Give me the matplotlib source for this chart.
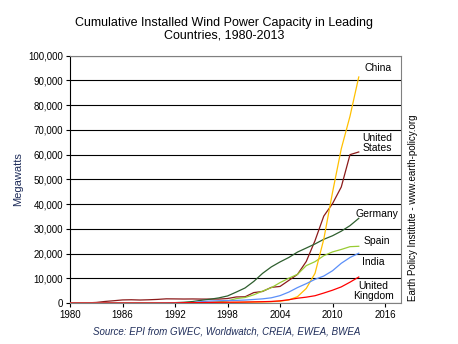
import matplotlib.pyplot as plt
import numpy as np

plt.rcParams['font.family'] = ['Liberation Sans', 'DejaVu Sans']

years = list(range(1980, 2014))

# cumulative installed capacity, MW
us = [8, 18, 84, 254, 653, 945, 1265, 1333, 1231, 1332, 1484, 1709, 1680, 1635,
      1663, 1612, 1614, 1611, 1837, 2472, 2539, 4232, 4687, 6350, 6723, 9147,
      11603, 16819, 25237, 35159, 40200, 46919, 60005, 61091]
germany = [0] * 10 + [55, 106, 174, 326, 618, 1121, 1549, 2089, 2875, 4445, 6104,
                      8754, 11994, 14609, 16629, 18428, 20622, 22247, 23903, 25777,
                      27214, 29060, 31308, 34250]
spain = [0] * 10 + [7, 7, 45, 52, 75, 115, 249, 512, 880, 1812, 2235, 3337, 4825,
                    6203, 8264, 10028, 11623, 15145, 16740, 19149, 20676, 21674,
                    22796, 22959]
india = [0] * 10 + [20, 39, 41, 79, 185, 576, 820, 940, 1015, 1077, 1220, 1456,
                    1702, 2125, 3000, 4430, 6270, 7850, 9587, 10925, 13065, 16084,
                    18421, 20150]
uk = [0] * 10 + [10, 13, 50, 150, 170, 200, 270, 320, 340, 360, 410, 480, 550,
                 650, 890, 1350, 1960, 2390, 2970, 4050, 5200, 6540, 8450, 10530]
china = [0] * 10 + [4, 10, 20, 30, 40, 44, 79, 170, 224, 268, 346, 404, 470, 568,
                    764, 1260, 2599, 5912, 12020, 25805, 44733, 62364, 75564, 91412]

series = [
    ('United\nStates', us, '#8b1a1a', 2015.1, 64800),
    ('Germany', germany, '#2e5e2e', 2015.1, 36000),
    ('Spain', spain, '#99cc33', 2015.1, 25100),
    ('China', china, '#ffc000', 2015.2, 95100),
    ('India', india, '#5b8ff9', 2014.7, 16600),
    ('United\nKingdom', uk, '#ff0000', 2014.7, 4700),
]

fig = plt.figure(figsize=(4.58, 3.44), dpi=100)
ax = fig.add_axes([0.153, 0.119, 0.722, 0.719])

for name, vals, col, lx, ly in series:
    ax.plot(years, vals, color=col, lw=0.9, zorder=3)
    ax.text(lx, ly, name, ha='center', va='center', fontsize=7.5,
            linespacing=1.0, zorder=4)

ax.set_xlim(1980, 2017.8)
ax.set_ylim(0, 100000)
ax.set_xticks(range(1980, 2017, 6))
ax.set_yticks(range(0, 100001, 10000))
ax.set_yticklabels([f'{v:,}' for v in range(0, 100001, 10000)])
ax.tick_params(labelsize=7, length=3, width=0.8, direction='out', pad=2)
ax.grid(axis='y', color='black', lw=0.8, zorder=1)
for s in ['top', 'right', 'bottom']:
    ax.spines[s].set_color('#808080')
ax.spines['left'].set_color('black')
for sp in ax.spines.values():
    sp.set_linewidth(0.8)

ax.set_ylabel('Megawatts', fontsize=8, color='#1f2d5a')
ax.yaxis.set_label_coords(-0.143, 0.5)
fig.text(0.49, 0.915, 'Cumulative Installed Wind Power Capacity in Leading\nCountries, 1980-2013',
         ha='center', va='center', fontsize=9, linespacing=1.0)
fig.text(0.495, 0.035, 'Source: EPI from GWEC, Worldwatch, CREIA, EWEA, BWEA',
         ha='center', va='center', fontsize=7, style='italic', color='#1f2d5a')
fig.text(0.902, 0.395, 'Earth Policy Institute - www.earth-policy.org', rotation=90,
         ha='center', va='center', fontsize=7)

fig.savefig('out.png', dpi=100)
